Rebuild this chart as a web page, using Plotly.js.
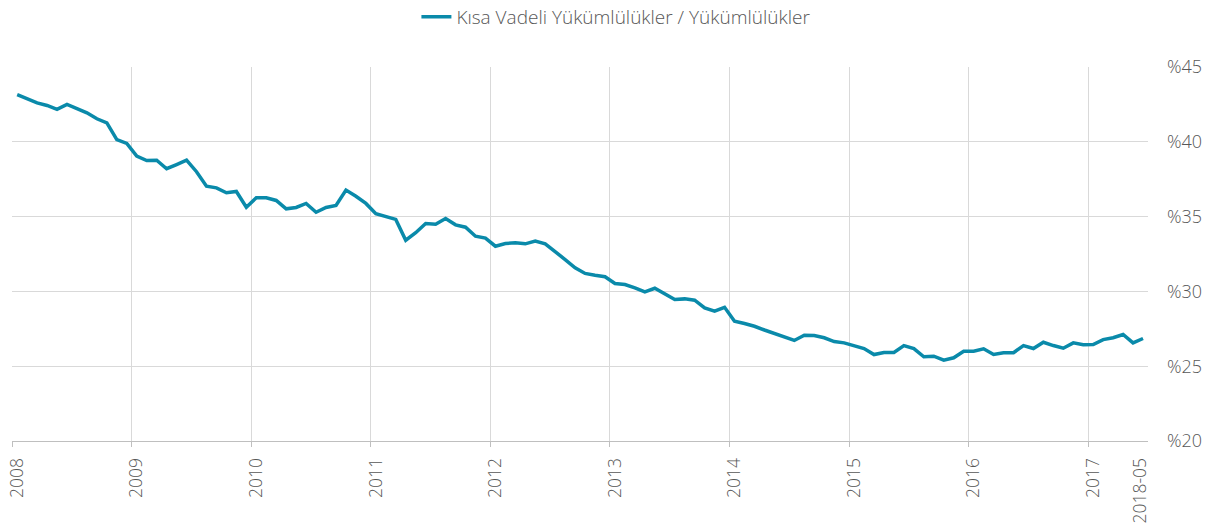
<!DOCTYPE html>
<html>
<head>
<meta charset="utf-8">
<script src="https://cdn.plot.ly/plotly-3.0.1.min.js"></script>
<style>html,body{margin:0;padding:0;background:#fff;}#chart{width:1224px;height:526px;}</style>
</head>
<body>
<div id="chart"></div>
<script>
const seriesName = 'Kısa Vadeli Yükümlülükler / Yükümlülükler';
const ratioValues = [
  43.16, 42.90, 42.60, 42.43, 42.17, 42.50, 42.20, 41.94, 41.54, 41.27, 40.15, 39.89,
  39.04, 38.75, 38.77, 38.20, 38.48, 38.77, 38.00, 37.03, 36.92, 36.59, 36.68, 35.63,
  36.26, 36.26, 36.08, 35.52, 35.61, 35.88, 35.29, 35.61, 35.74, 36.77, 36.36, 35.88,
  35.19, 35.00, 34.81, 33.42, 33.92, 34.54, 34.49, 34.87, 34.45, 34.29, 33.69, 33.56,
  33.02, 33.20, 33.25, 33.18, 33.36, 33.18, 32.69, 32.13, 31.58, 31.20, 31.08, 30.98,
  30.53, 30.46, 30.24, 29.97, 30.21, 29.86, 29.46, 29.50, 29.41, 28.90, 28.68, 28.94,
  28.01, 27.85, 27.67, 27.42, 27.19, 27.01, 26.72, 27.07, 27.05, 26.90, 26.65, 26.56,
  26.38, 26.18, 25.78, 25.92, 25.92, 26.38, 26.18, 25.63, 25.67, 25.40, 25.56, 26.00,
  26.00, 26.16, 25.78, 25.90, 25.90, 26.38, 26.18, 26.60, 26.38, 26.20, 26.56, 26.43,
  26.45, 26.78, 26.90, 27.12, 26.56, 26.85
];
const tickLabels = ['2008','2009','2010','2011','2012','2013','2014','2015','2016','2017','2018-05'];
const tickPositions = [0, 12, 24, 36, 48, 60, 72, 84, 96, 108, 112.7];
const gridPositions = [-0.5, 11.5, 23.5, 35.5, 47.5, 59.5, 71.5, 83.5, 95.5, 107.5];
const yTicks = [20, 25, 30, 35, 40, 45];
const yTickLabels = ['%20', '%25', '%30', '%35', '%40', '%45'];

const xIndex = ratioValues.map((v, i) => i);
const FONT = '"Open Sans", "Noto Sans", sans-serif';
const TXT = '#575757';

const trace = {
  type: 'scatter', mode: 'lines', name: seriesName,
  x: xIndex, y: ratioValues,
  line: {color: '#0a8aaa', width: 3.5}
};

const layout = {
  width: 1224, height: 526,
  margin: {l: 12, r: 76, t: 67, b: 85, autoexpand: false},
  paper_bgcolor: '#fff', plot_bgcolor: '#fff',
  font: {family: FONT, color: TXT, size: 17, weight: 300},
  showlegend: true,
  legend: {orientation: 'h', x: 0.356, xanchor: 'left', xref: 'paper',
           y: 0.968, yanchor: 'middle', yref: 'container',
           font: {family: FONT, size: 19, color: TXT, weight: 300}},
  xaxis: {
    range: [-0.52, 113.5], showgrid: false, zeroline: false,
    showline: true, linecolor: '#bfbfbf', linewidth: 1,
    tickmode: 'array', tickvals: tickPositions, ticktext: tickLabels,
    ticks: '', tickangle: -90, ticklabelstandoff: 9,
    tickfont: {family: FONT, size: 17.5, color: TXT, weight: 300},
    minor: {tickmode: 'array', tickvals: gridPositions, ticks: 'outside', ticklen: 5,
            tickcolor: '#bfbfbf', showgrid: true, gridcolor: '#d9d9d9', gridwidth: 1}
  },
  yaxis: {
    side: 'right', range: [20, 45], tickmode: 'array', tickvals: yTicks, ticktext: yTickLabels,
    showgrid: true, gridcolor: '#d9d9d9', gridwidth: 1,
    zeroline: false, ticks: '', ticklabelstandoff: 18,
    tickfont: {family: FONT, size: 18, color: TXT, weight: 300}
  }
};

Plotly.newPlot('chart', [trace], layout, {displayModeBar: false, staticPlot: true});
</script>
</body>
</html>
